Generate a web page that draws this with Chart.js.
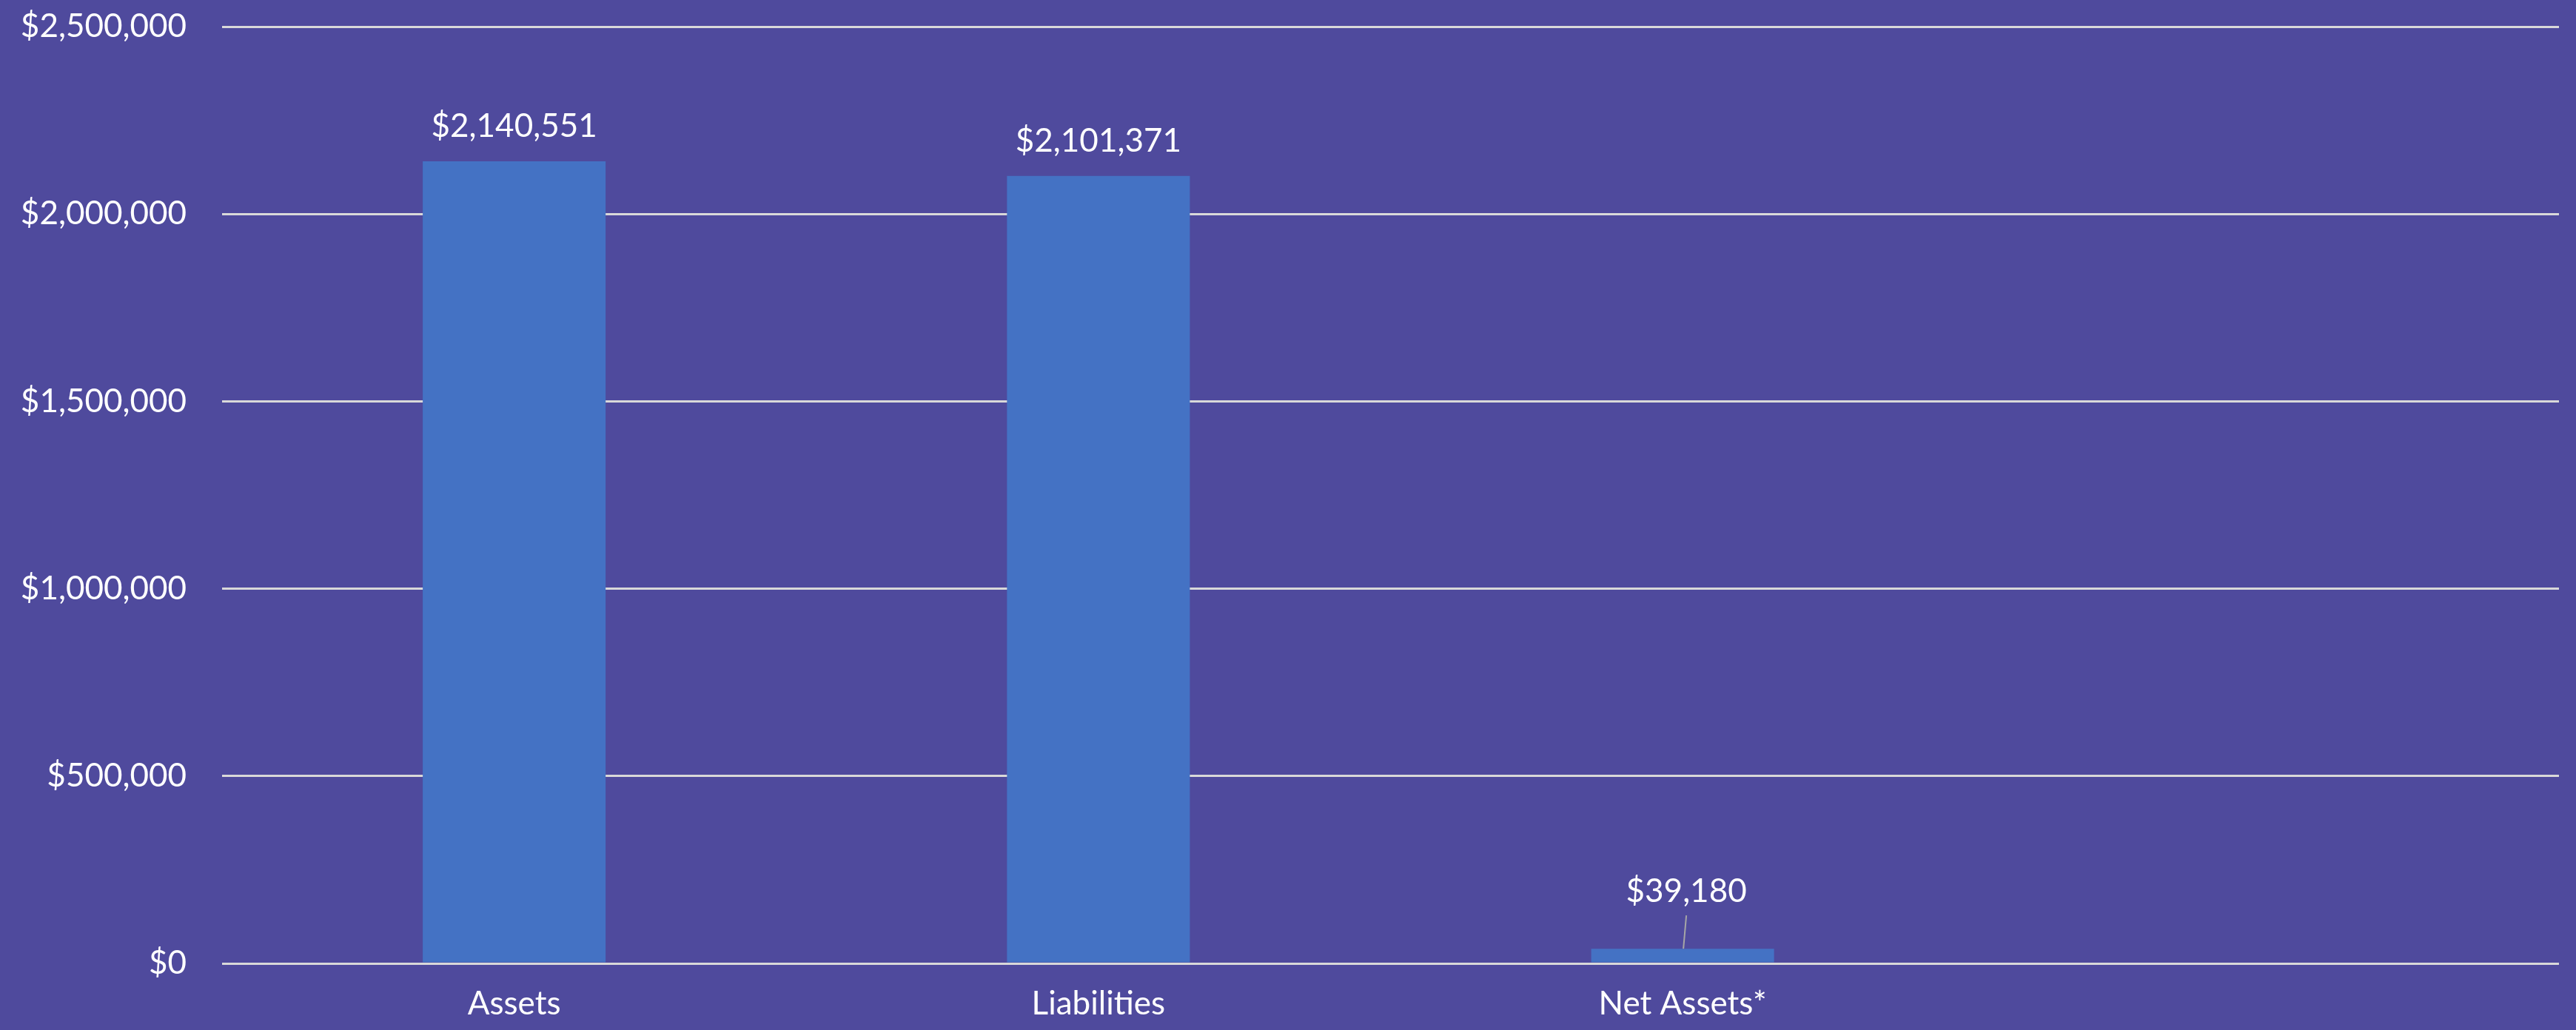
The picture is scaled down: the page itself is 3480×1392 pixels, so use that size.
<!DOCTYPE html>
<html>
<head>
<meta charset="utf-8">
<script src="https://cdn.jsdelivr.net/npm/chart.js@4.4.0/dist/chart.umd.min.js"></script>
<style>
    html, body { margin: 0; padding: 0; background: #4f4a9d; }
    canvas { display: block; }
</style>
</head>
<body>
<canvas id="chart" width="3480" height="1392"></canvas>
<script>
// chart values
const categories = ['Assets', 'Liabilities', 'Net Assets*', ''];
const amounts = [2140551, 2101371, 39180, null];
const yTicks = [0, 500000, 1000000, 1500000, 2000000, 2500000];

const BG = '#4f4a9d';
const BAR = '#4472c4';
const GRID = '#d9d9d9';
const FONT = 'Lato, "Open Sans", sans-serif';

const money = v => '$' + v.toLocaleString('en-US');

// paint the purple background behind everything
const background = {
    id: 'background',
    beforeDraw(chart) {
        const ctx = chart.ctx;
        ctx.save();
        ctx.fillStyle = BG;
        ctx.fillRect(0, 0, chart.width, chart.height);
        ctx.restore();
    }
};

// value labels above the bars, with a leader line for very short bars
const barLabels = {
    id: 'barLabels',
    afterDatasetsDraw(chart) {
        const ctx = chart.ctx;
        const meta = chart.getDatasetMeta(0);
        const base = chart.scales.y.getPixelForValue(0);
        ctx.save();
        ctx.font = '44px ' + FONT;
        ctx.fillStyle = '#ffffff';
        ctx.textAlign = 'center';
        ctx.textBaseline = 'alphabetic';
        meta.data.forEach((bar, i) => {
            const v = amounts[i];
            if (v == null) return;
            const short = base - bar.y < 40;
            const ty = bar.y - (short ? 63 : 33);
            if (short) {
                ctx.strokeStyle = '#a6a6a6';
                ctx.lineWidth = 2;
                ctx.beginPath();
                ctx.moveTo(bar.x + 5, ty + 18);
                ctx.lineTo(bar.x + 1, bar.y);
                ctx.stroke();
            }
            ctx.fillText(money(v), bar.x + (short ? 5 : 0), ty);
        });
        ctx.restore();
    }
};

const ctx = document.getElementById('chart').getContext('2d');
new Chart(ctx, {
    type: 'bar',
    data: {
        labels: categories,
        datasets: [{
            data: amounts,
            backgroundColor: BAR,
            borderWidth: 0,
            barPercentage: 0.313,
            categoryPercentage: 1
        }]
    },
    options: {
        responsive: false,
        animation: false,
        devicePixelRatio: 1,
        layout: {
            padding: { top: 36, right: 23, bottom: 0, left: 0 }
        },
        plugins: {
            legend: { display: false },
            tooltip: { enabled: false }
        },
        scales: {
            x: {
                grid: { display: false },
                border: { display: false },
                ticks: {
                    color: '#ffffff',
                    font: { family: FONT, size: 44 },
                    padding: 20,
                    maxRotation: 0
                },
                afterFit: s => {
                    s.height = 90;
                    s.paddingLeft = 0;
                    s.paddingRight = 0;
                }
            },
            y: {
                min: 0,
                max: 2500000,
                grid: { color: GRID, lineWidth: 3, drawTicks: false },
                border: { display: false },
                ticks: {
                    color: '#ffffff',
                    font: { family: FONT, size: 44 },
                    padding: 48,
                    callback: v => money(v)
                },
                afterBuildTicks: s => { s.ticks = yTicks.map(v => ({ value: v })); },
                afterFit: s => {
                    s.width = 300;
                    s.paddingTop = 0;
                    s.paddingBottom = 0;
                }
            }
        }
    },
    plugins: [background, barLabels]
});
</script>
</body>
</html>
